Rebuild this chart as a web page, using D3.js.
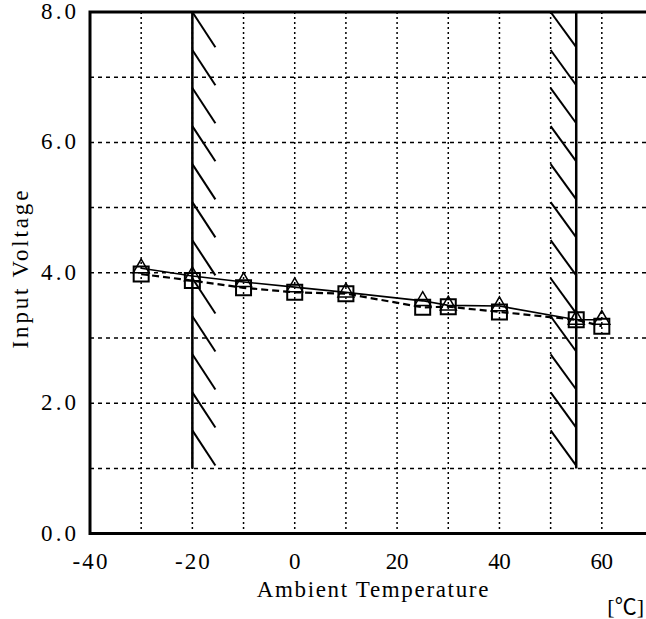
<!DOCTYPE html>
<html>
<head>
<meta charset="utf-8">
<script src="https://cdn.jsdelivr.net/npm/d3@7"></script>
<style>
  html, body { margin: 0; padding: 0; background: #fff; }
  svg { display: block; }
  text { font-family: "Liberation Serif", "Noto Sans CJK JP", serif; fill: #000; }
</style>
</head>
<body>
<script>
// data
var temps = [-30, -20, -10, 0, 10, 25, 30, 40, 55, 60];
var triVolts = [4.07, 3.95, 3.86, 3.78, 3.70, 3.57, 3.50, 3.49, 3.28, 3.28];
var sqVolts = [3.98, 3.88, 3.77, 3.70, 3.68, 3.47, 3.48, 3.40, 3.28, 3.18];

var xTicks = [-40, -20, 0, 20, 40, 60];
var xGrid = [-30, -20, -10, 0, 10, 20, 30, 40, 50, 60];
var yTicks = [0, 2, 4, 6, 8];
var yGrid = [1, 2, 3, 4, 5, 6, 7];

// hatched limit bands: solid edge at `edge`, strokes go from x0 to x1
var bands = [{edge: -20, x0: -20, x1: -15.5}, {edge: 55, x0: 50, x1: 55}];
var hatchTop = 8, hatchBottom = 1, hatchCount = 12, hatchDrop = 0.54;

var W = 646, H = 619;
var charW = 12.3; // the original uses a fixed-width face
var x = d3.scaleLinear().domain([-40, 70]).range([90, 653]);
var y = d3.scaleLinear().domain([0, 8]).range([533.6, 12]);

var svg = d3.select('body').append('svg')
  .attr('width', W)
  .attr('height', H);

var label = function(sel, str) {
  sel.text(str)
    .attr('font-size', 23)
    .attr('textLength', str.length * charW - 2)
    .attr('lengthAdjust', 'spacing');
};

// grid
svg.append('g').selectAll('line')
  .data(yGrid).enter().append('line')
  .attr('x1', x(-40)).attr('x2', x(70))
  .attr('y1', function(d) { return y(d); })
  .attr('y2', function(d) { return y(d); })
  .attr('stroke', '#000').attr('stroke-width', 1.5)
  .attr('stroke-dasharray', '4,4');

svg.append('g').selectAll('line')
  .data(xGrid).enter().append('line')
  .attr('x1', function(d) { return x(d); })
  .attr('x2', function(d) { return x(d); })
  .attr('y1', y(8)).attr('y2', y(0))
  .attr('stroke', '#000').attr('stroke-width', 1.5)
  .attr('stroke-dasharray', '2,3');

// hatch bands
var step = (hatchTop - hatchBottom) / hatchCount;
bands.forEach(function(b) {
  svg.append('line')
    .attr('x1', x(b.edge)).attr('x2', x(b.edge))
    .attr('y1', y(hatchTop)).attr('y2', y(hatchBottom))
    .attr('stroke', '#000').attr('stroke-width', 2.5);
  svg.append('g').selectAll('line')
    .data(d3.range(hatchCount)).enter().append('line')
    .attr('x1', x(b.x0)).attr('x2', x(b.x1))
    .attr('y1', function(k) { return y(hatchTop - k * step); })
    .attr('y2', function(k) { return y(hatchTop - k * step - hatchDrop); })
    .attr('stroke', '#000').attr('stroke-width', 2);
});

// frame
svg.append('path')
  .attr('d', 'M' + x(70) + ',' + y(8) + 'H' + x(-40) + 'V' + y(0) + 'H' + x(70))
  .attr('fill', 'none').attr('stroke', '#000').attr('stroke-width', 3);

// series
var triData = temps.map(function(t, i) { return [t, triVolts[i]]; });
var sqData = temps.map(function(t, i) { return [t, sqVolts[i]]; });
var line = d3.line()
  .x(function(d) { return x(d[0]); })
  .y(function(d) { return y(d[1]); });

svg.append('path').datum(triData)
  .attr('d', line).attr('fill', 'none')
  .attr('stroke', '#000').attr('stroke-width', 1.6);

svg.append('path').datum(sqData)
  .attr('d', line).attr('fill', 'none')
  .attr('stroke', '#000').attr('stroke-width', 2.2)
  .attr('stroke-dasharray', '7,4');

svg.append('g').selectAll('path')
  .data(sqData).enter().append('path')
  .attr('d', d3.symbol().type(d3.symbolSquare).size(225))
  .attr('transform', function(d) { return 'translate(' + x(d[0]) + ',' + y(d[1]) + ')'; })
  .attr('fill', 'none').attr('stroke', '#000').attr('stroke-width', 2);

svg.append('g').selectAll('path')
  .data(triData).enter().append('path')
  .attr('d', d3.symbol().type(d3.symbolTriangle).size(110))
  .attr('transform', function(d) { return 'translate(' + x(d[0]) + ',' + y(d[1]) + ')'; })
  .attr('fill', 'none').attr('stroke', '#000').attr('stroke-width', 1.5);

// tick labels
svg.append('g').selectAll('text')
  .data(yTicks).enter().append('text')
  .attr('x', 76)
  .attr('y', function(d) { return y(d) + 7; })
  .attr('text-anchor', 'end')
  .each(function(d) { label(d3.select(this), d.toFixed(1)); });

svg.append('g').selectAll('text')
  .data(xTicks).enter().append('text')
  .attr('x', function(d) { return x(d); })
  .attr('y', 569)
  .attr('text-anchor', 'middle')
  .each(function(d) { label(d3.select(this), String(d)); });

// axis titles
svg.append('text')
  .attr('transform', 'translate(28,' + y(4.05) + ') rotate(-90)')
  .attr('text-anchor', 'middle')
  .call(label, 'Input Voltage');

svg.append('text')
  .attr('x', x(15.2)).attr('y', 597)
  .attr('text-anchor', 'middle')
  .call(label, 'Ambient Temperature');

svg.append('text')
  .attr('x', 644).attr('y', 614)
  .attr('text-anchor', 'end')
  .attr('font-size', 22)
  .text('[℃]');
</script>
</body>
</html>
